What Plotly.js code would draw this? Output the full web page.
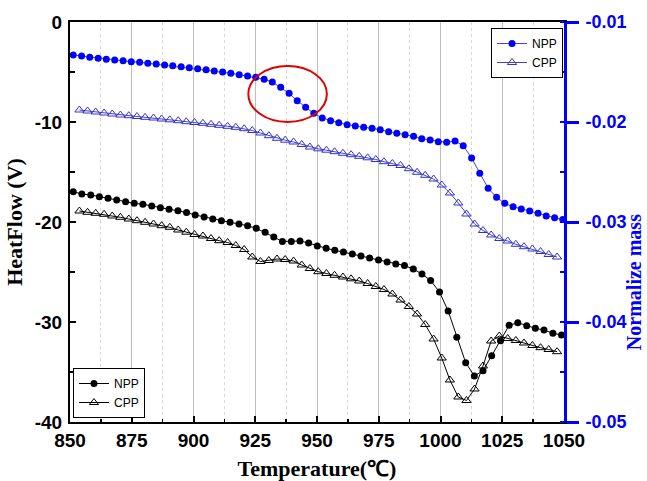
<!DOCTYPE html>
<html>
<head>
<meta charset="utf-8">
<script src="https://cdn.plot.ly/plotly-3.0.1.min.js"></script>
<style>html,body{margin:0;padding:0;background:#fff;}#chart{width:647px;height:481px;}</style>
</head>
<body>
<div id="chart"></div>
<script>
// Temperature grids (deg C)
const tempNppMass = [851.3, 854.7, 858.0, 861.4, 864.7, 868.1, 871.5, 874.8, 878.2, 881.5,
  884.9, 888.3, 891.6, 895.0, 898.3, 901.7, 905.1, 908.4, 911.8, 915.1,
  918.5, 921.9, 925.2, 928.6, 931.9, 935.3, 938.7, 942.0, 945.4, 948.7,
  952.1, 955.5, 958.8, 962.2, 965.5, 968.9, 972.3, 975.6, 979.0, 982.3,
  985.7, 989.1, 992.4, 995.8, 999.1, 1002.5, 1005.9, 1009.2, 1012.6, 1015.9,
  1019.3, 1022.7, 1026.0, 1029.4, 1032.7, 1036.1, 1039.5, 1042.8, 1046.2, 1049.5];
const tempNppHeat = [851.3, 854.8, 858.4, 861.9, 865.4, 868.9, 872.5, 876.0, 879.5, 883.1,
  886.6, 890.1, 893.7, 897.2, 900.7, 904.3, 907.8, 911.3, 914.8, 918.4,
  921.9, 925.4, 929.0, 932.5, 936.0, 939.6, 943.1, 946.6, 950.1, 953.7,
  957.2, 960.7, 964.3, 967.8, 971.3, 974.9, 978.4, 981.9, 985.4, 989.0,
  992.5, 996.0, 999.6, 1003.1, 1006.6, 1010.2, 1013.7, 1017.2, 1020.7, 1024.3,
  1027.8, 1031.3, 1034.9, 1038.4, 1041.9, 1045.5, 1049.0];
const tempCpp = [853.8, 857.1, 860.4, 863.8, 867.1, 870.4, 873.8, 877.1, 880.4, 883.8,
  887.1, 890.4, 893.8, 897.1, 900.4, 903.8, 907.1, 910.4, 913.8, 917.1,
  920.5, 923.8, 927.1, 930.5, 933.8, 937.1, 940.5, 943.8, 947.1, 950.5,
  953.8, 957.1, 960.5, 963.8, 967.1, 970.5, 973.8, 977.1, 980.5, 983.8,
  987.2, 990.5, 993.8, 997.2, 1000.5, 1003.8, 1007.2, 1010.5, 1013.8, 1017.2,
  1020.5, 1023.8, 1027.2, 1030.5, 1033.8, 1037.2, 1040.5, 1043.8, 1047.2];

// Normalized mass (right axis)
const massNpp = [-0.0133, -0.0134, -0.01353, -0.01363, -0.01373, -0.0138, -0.01387, -0.01397, -0.01403, -0.01413,
  -0.0142, -0.0143, -0.01437, -0.01447, -0.01457, -0.01467, -0.01477, -0.0149, -0.015, -0.01513,
  -0.01527, -0.0154, -0.01553, -0.01573, -0.016, -0.01653, -0.01713, -0.01787, -0.01853, -0.01913,
  -0.0196, -0.01987, -0.02007, -0.02027, -0.0204, -0.02053, -0.02063, -0.02077, -0.02097, -0.02113,
  -0.02127, -0.02143, -0.02167, -0.0218, -0.02197, -0.02203, -0.0219, -0.02237, -0.0236, -0.02513,
  -0.02663, -0.02753, -0.02813, -0.02847, -0.0287, -0.0289, -0.02913, -0.0294, -0.02957, -0.02975];
const massCpp = [-0.0188, -0.0189, -0.0190, -0.0191, -0.0192, -0.0193, -0.01937, -0.01945, -0.01953, -0.0196,
  -0.0197, -0.01978, -0.01987, -0.01997, -0.02005, -0.02013, -0.02023, -0.02033, -0.02043, -0.02053,
  -0.02067, -0.02085, -0.0211, -0.02137, -0.02163, -0.02182, -0.022, -0.02225, -0.0225, -0.02268,
  -0.02282, -0.02297, -0.02313, -0.02327, -0.02343, -0.02358, -0.02375, -0.02397, -0.02415, -0.02435,
  -0.02467, -0.02503, -0.02533, -0.0257, -0.0263, -0.0271, -0.0281, -0.0292, -0.0302, -0.03085,
  -0.0313, -0.03165, -0.0319, -0.03223, -0.03247, -0.0327, -0.03295, -0.03325, -0.0335];

// Heat flow (left axis)
const heatNpp = [-16.97, -17.2, -17.3, -17.47, -17.63, -17.8, -17.97, -18.13, -18.23, -18.4,
  -18.57, -18.73, -18.87, -19.05, -19.3, -19.5, -19.7, -19.87, -20.03, -20.2,
  -20.37, -20.63, -21.03, -21.5, -21.95, -21.95, -21.9, -22.1, -22.4, -22.63,
  -22.83, -23.0, -23.2, -23.4, -23.6, -23.8, -24.0, -24.2, -24.35, -24.7,
  -25.2, -25.85, -27.0, -28.9, -31.53, -34.07, -35.4, -34.87, -33.37, -31.87,
  -30.33, -30.07, -30.37, -30.63, -30.8, -31.13, -31.3];
const heatCpp = [-18.9, -19.03, -19.13, -19.23, -19.4, -19.53, -19.7, -19.87, -20.03, -20.2,
  -20.37, -20.53, -20.8, -21.02, -21.25, -21.4, -21.65, -21.87, -22.05, -22.35,
  -22.75, -23.5, -23.95, -23.85, -23.7, -23.75, -23.9, -24.3, -24.65, -24.97,
  -25.15, -25.33, -25.5, -25.68, -25.9, -26.15, -26.45, -26.75, -27.2, -27.8,
  -28.45, -29.2, -30.25, -31.7, -33.6, -35.8, -37.5, -37.85, -36.7, -34.4,
  -31.9, -31.4, -31.65, -31.85, -32.1, -32.35, -32.57, -32.75, -32.97];

// Tick labels
const xTicks = [850, 875, 900, 925, 950, 975, 1000, 1025, 1050];
const yTicks = [0, -10, -20, -30, -40];
const yTickText = ['0', '-10', '-20', '-30', '-40'];
const y2Ticks = [-0.01, -0.02, -0.03, -0.04, -0.05];
const y2TickText = ['-0.01', '-0.02', '-0.03', '-0.04', '-0.05'];
const seriesNames = ['NPP', 'CPP'];

const tickFont = {family: 'Liberation Sans, Arial, sans-serif', size: 19, color: '#000', weight: 'bold'};
const titleFont = {family: 'Liberation Serif, Times New Roman, serif', size: 22, color: '#000', weight: 'bold'};

const traces = [
  {x: tempNppMass, y: massNpp, name: seriesNames[0], yaxis: 'y2', type: 'scatter', mode: 'lines+markers',
   line: {color: '#4444dd', width: 1}, marker: {symbol: 'circle', size: 7, color: '#0000ff'}, legend: 'legend'},
  {x: tempCpp, y: massCpp, name: seriesNames[1], yaxis: 'y2', type: 'scatter', mode: 'lines+markers',
   line: {color: '#4444cc', width: 1}, marker: {symbol: 'triangle-up-open', size: 8, color: '#3333cc', line: {width: 1}}, legend: 'legend'},
  {x: tempNppHeat, y: heatNpp, name: seriesNames[0], yaxis: 'y', type: 'scatter', mode: 'lines+markers',
   line: {color: '#000', width: 1}, marker: {symbol: 'circle', size: 7, color: '#000'}, legend: 'legend2'},
  {x: tempCpp, y: heatCpp, name: seriesNames[1], yaxis: 'y', type: 'scatter', mode: 'lines+markers',
   line: {color: '#000', width: 1}, marker: {symbol: 'triangle-up-open', size: 8, color: '#000', line: {width: 1}}, legend: 'legend2'}
];

const legendFont = {family: 'Liberation Sans, Arial, sans-serif', size: 12, color: '#000'};

const layout = {
  width: 647, height: 481,
  margin: {l: 70, r: 83, t: 22, b: 59},
  paper_bgcolor: '#fff', plot_bgcolor: '#fff',
  showlegend: true,
  xaxis: {
    range: [850, 1050], tickvals: xTicks, ticktext: xTicks.map(String),
    showline: true, linecolor: '#000', linewidth: 2, mirror: true,
    ticks: 'inside', ticklen: 6, tickwidth: 2, tickcolor: '#000',
    showgrid: true, gridcolor: '#bdbdbd', gridwidth: 1, zeroline: false,
    minor: {dtick: 12.5, tick0: 850, ticks: 'inside', ticklen: 3, tickwidth: 1.5, tickcolor: '#000', showgrid: true, gridcolor: '#d8d8d8', griddash: 'dot', gridwidth: 1},
    tickfont: tickFont,
    title: {text: 'Temperature(℃)', font: titleFont, standoff: 12}
  },
  yaxis: {
    range: [-40, 0], tickvals: yTicks, ticktext: yTickText,
    showline: true, linecolor: '#000', linewidth: 2,
    ticks: 'inside', ticklen: 6, tickwidth: 2, tickcolor: '#000',
    showgrid: false, zeroline: false, ticklabelstandoff: 2,
    minor: {dtick: 5, tick0: 0, ticks: 'inside', ticklen: 5, tickwidth: 2, tickcolor: '#000', showgrid: false},
    tickfont: tickFont,
    title: {text: 'HeatFlow (V)', font: titleFont, standoff: 6}
  },
  yaxis2: {
    range: [-0.05, -0.01], tickvals: y2Ticks, ticktext: y2TickText, overlaying: 'y', side: 'right',
    showline: true, linecolor: '#0000ff', linewidth: 3,
    ticks: 'outside', ticklen: 12, tickwidth: 3, tickcolor: '#0000ff',
    showgrid: false, zeroline: false, ticklabelstandoff: 3,
    minor: {dtick: 0.005, tick0: -0.05, ticks: 'inside', ticklen: 4, tickwidth: 2, tickcolor: '#0000ff', showgrid: false},
    tickfont: Object.assign({}, tickFont, {color: '#0000ff', size: 18})
  },
  legend: {x: 0.998, y: 0.985, xanchor: 'right', yanchor: 'top', bgcolor: '#fff', bordercolor: '#000', borderwidth: 1,
           font: legendFont, tracegroupgap: 0, itemwidth: 30},
  legend2: {x: 0.006, y: 0.01, xanchor: 'left', yanchor: 'bottom', bgcolor: '#fff', bordercolor: '#000', borderwidth: 1,
            font: legendFont, tracegroupgap: 0, itemwidth: 30},
  shapes: [
    {type: 'circle', xref: 'x', yref: 'y2', x0: 922.2, x1: 954.0, y0: -0.0144, y1: -0.0200,
     line: {color: '#e00000', width: 2}, fillcolor: 'rgba(0,0,0,0)'}
  ],
  annotations: [
    {text: 'Normalize mass', xref: 'paper', yref: 'paper', x: 1.142, y: 0.35, textangle: -90, showarrow: false,
     font: {family: 'Liberation Serif, Times New Roman, serif', size: 20, color: '#0000ff', weight: 'bold'}, xanchor: 'center', yanchor: 'middle'}
  ]
};

Plotly.newPlot('chart', traces, layout, {displayModeBar: false, staticPlot: true});
</script>
</body>
</html>
